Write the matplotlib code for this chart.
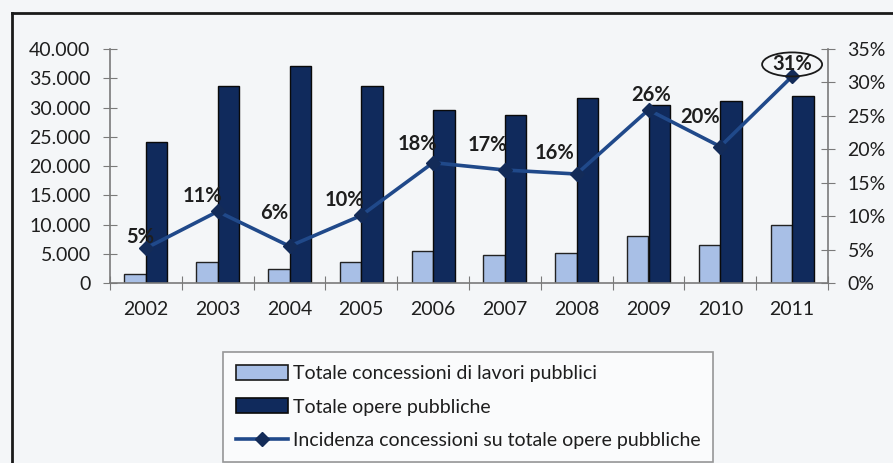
import matplotlib.pyplot as plt
import matplotlib.transforms as mtransforms
from matplotlib.patches import Patch, Ellipse
from matplotlib.lines import Line2D
from matplotlib.ticker import FuncFormatter, MultipleLocator, FixedLocator

plt.rcParams['font.family'] = ['Lato', 'DejaVu Sans']

years = ['2002', '2003', '2004', '2005', '2006', '2007', '2008', '2009', '2010', '2011']
concessioni = [1500, 3600, 2400, 3600, 5500, 4800, 5200, 8000, 6500, 9900]
opere = [24150, 33700, 37100, 33600, 29600, 28800, 31600, 30400, 31100, 32000]
incidenza = [5.2, 10.7, 5.5, 10.1, 18.0, 16.9, 16.3, 25.9, 20.4, 30.9]
labels_pct = ['5%', '11%', '6%', '10%', '18%', '17%', '16%', '26%', '20%', '31%']
# label offsets from the point, in pixels
label_dx = [-6, -15, -15, -17, -16, -17, -22, 3, -20, 0]
label_dy = [11, 15, 33, 15, 19, 25, 21, 15, 30, 12]

light = '#a8bfe6'
dark = '#102a5c'
line_col = '#20498a'
bg = '#f4f6f8'
axis_gray = '#7a7a7a'
txt = '#1e1e1e'

W, H = 893, 463
fig = plt.figure(figsize=(W / 100, H / 100), dpi=100, facecolor=bg)
ax = fig.add_axes([110 / W, 1 - 283 / H, (828 - 110) / W, (283 - 49) / H])
ax.set_facecolor('none')

x = list(range(len(years)))
bw = 0.3
ax.bar([i - bw / 2 for i in x], concessioni, bw, color=light, edgecolor='#222222', linewidth=1.0)
ax.bar([i + bw / 2 for i in x], opere, bw, color=dark, edgecolor='#0a0a0a', linewidth=1.0)

ax.set_xlim(-0.5, len(years) - 0.5)
ax.set_ylim(0, 40000)
ax.yaxis.set_major_locator(MultipleLocator(5000))
ax.yaxis.set_major_formatter(FuncFormatter(lambda v, p: f'{int(v):,}'.replace(',', '.')))
ax.xaxis.set_major_locator(FixedLocator([i - 0.5 for i in range(len(years) + 1)]))
ax.xaxis.set_major_formatter(FuncFormatter(lambda v, p: ''))
ax.xaxis.set_minor_locator(FixedLocator(x))
ax.set_xticklabels(years, minor=True)

for s in ['top', 'right']:
    ax.spines[s].set_visible(False)
for s in ['left', 'bottom']:
    ax.spines[s].set_color(axis_gray)
    ax.spines[s].set_linewidth(1.2)
ax.tick_params(axis='y', direction='inout', length=10, color=axis_gray, labelsize=14,
               pad=9, labelcolor=txt)
ax.tick_params(axis='x', which='major', direction='inout', length=10, color=axis_gray)
ax.tick_params(axis='x', which='minor', length=0, pad=13, labelsize=14, labelcolor=txt)

ax2 = ax.twinx()
ax2.set_ylim(0, 35)
ax2.yaxis.set_major_locator(MultipleLocator(5))
ax2.yaxis.set_major_formatter(FuncFormatter(lambda v, p: f'{int(v)}%'))
for s in ['top', 'left', 'bottom']:
    ax2.spines[s].set_visible(False)
ax2.spines['right'].set_color(axis_gray)
ax2.spines['right'].set_linewidth(1.2)
ax2.tick_params(axis='y', direction='inout', length=10, color=axis_gray, labelsize=14,
                pad=9, labelcolor=txt)

ax2.plot(x, incidenza, color=line_col, linewidth=2.6, marker='D', markersize=7.5,
         markerfacecolor='#132b58', markeredgecolor='#132b58', zorder=5)

for i, (v, t) in enumerate(zip(incidenza, labels_pct)):
    ax2.annotate(t, (i, v), xytext=(label_dx[i], label_dy[i]), textcoords='offset pixels',
                 ha='center', va='center', fontsize=14.5, fontweight='bold', color=txt,
                 zorder=6)

# ellipse around the last label
last = len(years) - 1
tr = fig.dpi_scale_trans + mtransforms.ScaledTranslation(last, incidenza[last], ax2.transData)
ax2.add_patch(Ellipse((label_dx[last] / 100, label_dy[last] / 100), 0.6, 0.24, transform=tr,
                      facecolor='none', edgecolor='#1a1a1a', linewidth=1.3, zorder=7))

# outer frame of the scanned chart
fig.add_artist(Line2D([12 / W, 1], [1 - 13 / H, 1 - 13 / H], color='#1a1a1a', linewidth=2,
                      transform=fig.transFigure))
fig.add_artist(Line2D([12 / W, 12 / W], [0, 1 - 13 / H], color='#1a1a1a', linewidth=2,
                      transform=fig.transFigure))

handles = [
    Patch(facecolor=light, edgecolor='#1a1a1a', linewidth=1.2),
    Patch(facecolor=dark, edgecolor='#0a0a0a', linewidth=1.2),
    Line2D([], [], color=line_col, linewidth=2.6, marker='D', markersize=7.5,
           markerfacecolor='#132b58', markeredgecolor='#132b58'),
]
names = ['Totale concessioni di lavori pubblici', 'Totale opere pubbliche',
         'Incidenza concessioni su totale opere pubbliche']
leg = fig.legend(handles, names, loc='upper left', bbox_to_anchor=(223 / W, 1 - 352 / H),
                 borderaxespad=0, fontsize=14.0, frameon=True, fancybox=False,
                 edgecolor='#555555', facecolor='white', framealpha=0.6, handlelength=2.7,
                 handleheight=0.8, labelspacing=0.85, borderpad=0.65, handletextpad=0.25)
leg.get_frame().set_linewidth(1.2)
for t in leg.get_texts():
    t.set_color(txt)

fig.savefig('out.png', dpi=100, facecolor=bg)
